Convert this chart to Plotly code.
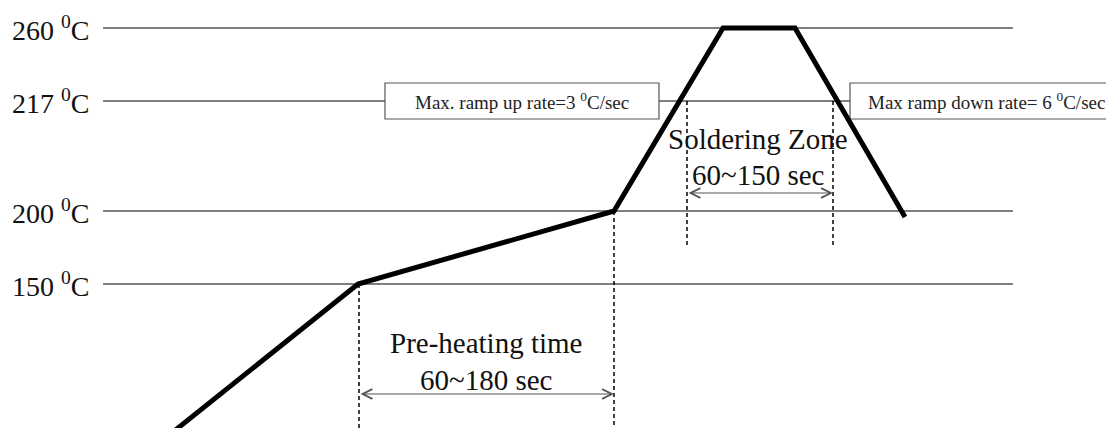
import plotly.graph_objects as go

# Schematic reflow profile (diagram units: x = time axis, y = schematic height, top = 0)
level_labels = ["260 <sup>0</sup>C", "217 <sup>0</sup>C", "200 <sup>0</sup>C", "150 <sup>0</sup>C"]
level_y = [28, 101, 211, 284]

profile_x = [163, 358, 614, 723, 795, 905]
profile_y = [440, 284, 211, 28, 28, 217]

preheat_x = [359, 614]
solder_x = [687, 833]

FONT = "Liberation Serif"
GRAY = "#7f7f7f"

fig = go.Figure()
fig.add_trace(go.Scatter(x=profile_x, y=profile_y, mode="lines",
                         line=dict(color="black", width=5), hoverinfo="skip",
                         showlegend=False))

shapes = []
ann = []
# horizontal temperature lines
for lab, y in zip(level_labels, level_y):
    shapes.append(dict(type="line", x0=103, x1=1013, y0=y, y1=y, xref="x", yref="y",
                       line=dict(color=GRAY, width=2), layer="below"))
    ann.append(dict(x=10, y=y, xref="x", yref="y", text=lab, showarrow=False,
                    xanchor="left", yanchor="middle",
                    font=dict(family=FONT, size=28, color="#111")))

# boxes
boxes = [(385, 659, "Max. ramp up rate=3 <sup>0</sup>C/sec", 522),
         (850, 1125, "Max ramp down rate= 6 <sup>0</sup>C/sec", 986)]
for x0, x1, t, cx in boxes:
    shapes.append(dict(type="rect", x0=x0, x1=x1, y0=83, y1=119, xref="x", yref="y",
                       fillcolor="white", line=dict(color="#555", width=1.2), layer="below"))
    ann.append(dict(x=cx, y=101, xref="x", yref="y", text=t, showarrow=False,
                    xanchor="center", yanchor="middle",
                    font=dict(family=FONT, size=19, color="#222")))

# dashed verticals
dash = dict(color="black", width=1.5, dash="4px,3px")
shapes.append(dict(type="line", x0=preheat_x[0], x1=preheat_x[0], y0=284, y1=440, line=dash, layer="below"))
shapes.append(dict(type="line", x0=preheat_x[1], x1=preheat_x[1], y0=211, y1=440, line=dash, layer="below"))
for x in solder_x:
    shapes.append(dict(type="line", x0=x, x1=x, y0=101, y1=246, line=dash, layer="below"))

# double arrows
for (xa, xb), y in [(preheat_x, 394), (solder_x, 193)]:
    ann.append(dict(x=xb, y=y, ax=xa, ay=y, xref="x", yref="y", axref="x", ayref="y",
                    text="", showarrow=True, arrowhead=5, startarrowhead=5,
                    arrowside="end+start", arrowsize=1.6, startarrowsize=1.6,
                    arrowwidth=1.2, arrowcolor="#555"))

big = dict(family=FONT, size=29, color="#111")
ann += [
    dict(x=486, y=343, text="Pre-heating time", showarrow=False, font=big, xref="x", yref="y"),
    dict(x=486, y=380, text="60~180 sec", showarrow=False, font=big, xref="x", yref="y"),
    dict(x=758, y=139, text="Soldering Zone", showarrow=False, font=big, xref="x", yref="y"),
    dict(x=758, y=175, text="60~150 sec", showarrow=False, font=big, xref="x", yref="y"),
]

# the page places the figure 8px in from the window edge; shift ranges to compensate
fig.update_layout(
    width=1114, height=428, margin=dict(l=0, r=0, t=0, b=0),
    paper_bgcolor="white", plot_bgcolor="white",
    xaxis=dict(range=[8, 1122], visible=False, fixedrange=True),
    yaxis=dict(range=[436, 8], visible=False, fixedrange=True),
    shapes=shapes, annotations=ann, showlegend=False,
)
fig.write_html("out.html")
